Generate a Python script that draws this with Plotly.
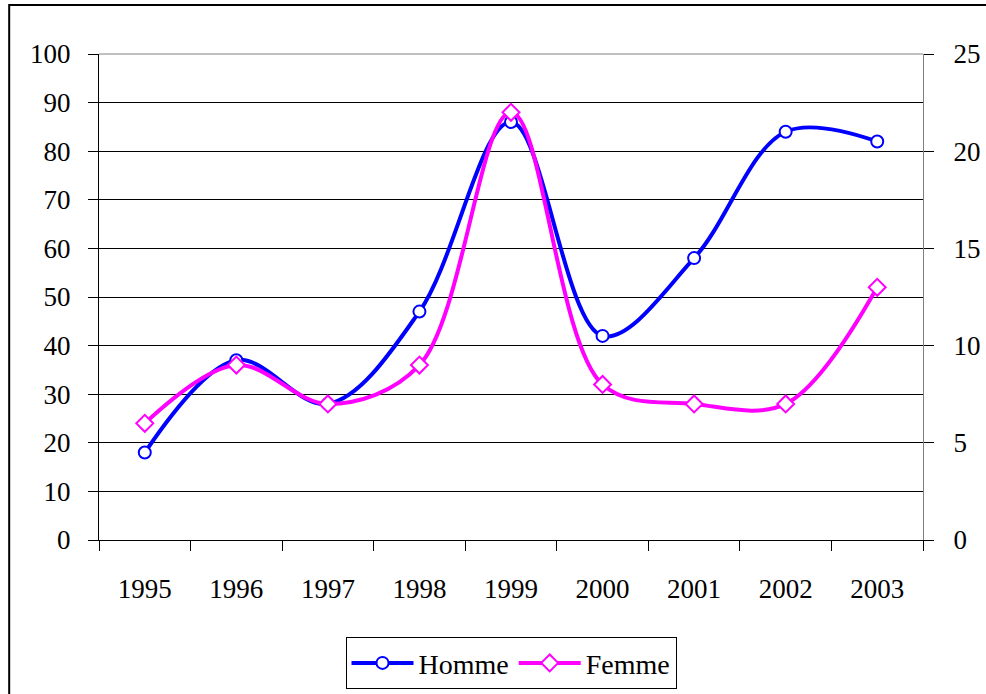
import plotly.graph_objects as go

years = ["1995", "1996", "1997", "1998", "1999", "2000", "2001", "2002", "2003"]
homme = [18, 37, 28, 47, 86, 42, 58, 84, 82]
femme = [6, 9, 7, 9, 22, 8, 7, 7, 13]

FONT = "Liberation Serif, Times New Roman, serif"

fig = go.Figure()
fig.add_trace(go.Scatter(
    x=years, y=homme, name="Homme", mode="lines+markers",
    line=dict(color="#0000FF", width=4, shape="spline", smoothing=1),
    marker=dict(symbol="circle", size=12, color="white", line=dict(color="#0000FF", width=2)),
    yaxis="y",
))
fig.add_trace(go.Scatter(
    x=years, y=femme, name="Femme", mode="lines+markers",
    line=dict(color="#FF00FF", width=4, shape="spline", smoothing=1),
    marker=dict(symbol="diamond", size=13, color="white", line=dict(color="#FF00FF", width=2)),
    yaxis="y2",
))

tickfont = dict(family=FONT, size=27, color="black")

fig.update_layout(
    width=986, height=694,
    margin=dict(l=99, r=63, t=54, b=154, autoexpand=False),
    paper_bgcolor="white", plot_bgcolor="white",
    font=dict(family=FONT, size=27, color="black"),
    showlegend=True,
    legend=dict(orientation="h", x=0.5, xanchor="center", y=-0.2, yanchor="top",
                bordercolor="black", borderwidth=1, font=dict(size=28, family=FONT),
                itemwidth=62, tracegroupgap=0),
    xaxis=dict(type="category", showgrid=False, showline=True, linecolor="black", linewidth=1,
               ticks="outside", tickson="boundaries", ticklen=10, tickcolor="black",
               ticklabelstandoff=25, range=[-0.5, 8.5], tickfont=tickfont, automargin=False),
    yaxis=dict(range=[0, 100], dtick=10, showgrid=True, gridcolor="black", gridwidth=1,
               showline=True, linecolor="black", ticks="outside", ticklen=10, tickcolor="black",
               ticklabelstandoff=12, zeroline=False, tickfont=tickfont, automargin=False),
    yaxis2=dict(range=[0, 25], dtick=5, overlaying="y", side="right", showgrid=False,
                showline=True, linecolor="#808080", ticks="outside", ticklen=10, tickcolor="black",
                ticklabelstandoff=14, zeroline=False, tickfont=tickfont, automargin=False),
    shapes=[
        dict(type="line", xref="paper", yref="paper", x0=0, x1=1, y0=1, y1=1,
             line=dict(color="#808080", width=1), layer="above"),
        dict(type="rect", xref="paper", yref="paper", x0=-0.109, x1=1.08, y0=-0.4, y1=1.101,
             line=dict(color="black", width=2), fillcolor="rgba(0,0,0,0)", layer="above"),
    ],
)

fig.write_html(
    "out.html",
    config={"displayModeBar": False},
    post_script="document.body.style.margin='0';document.body.style.overflow='hidden';",
)
